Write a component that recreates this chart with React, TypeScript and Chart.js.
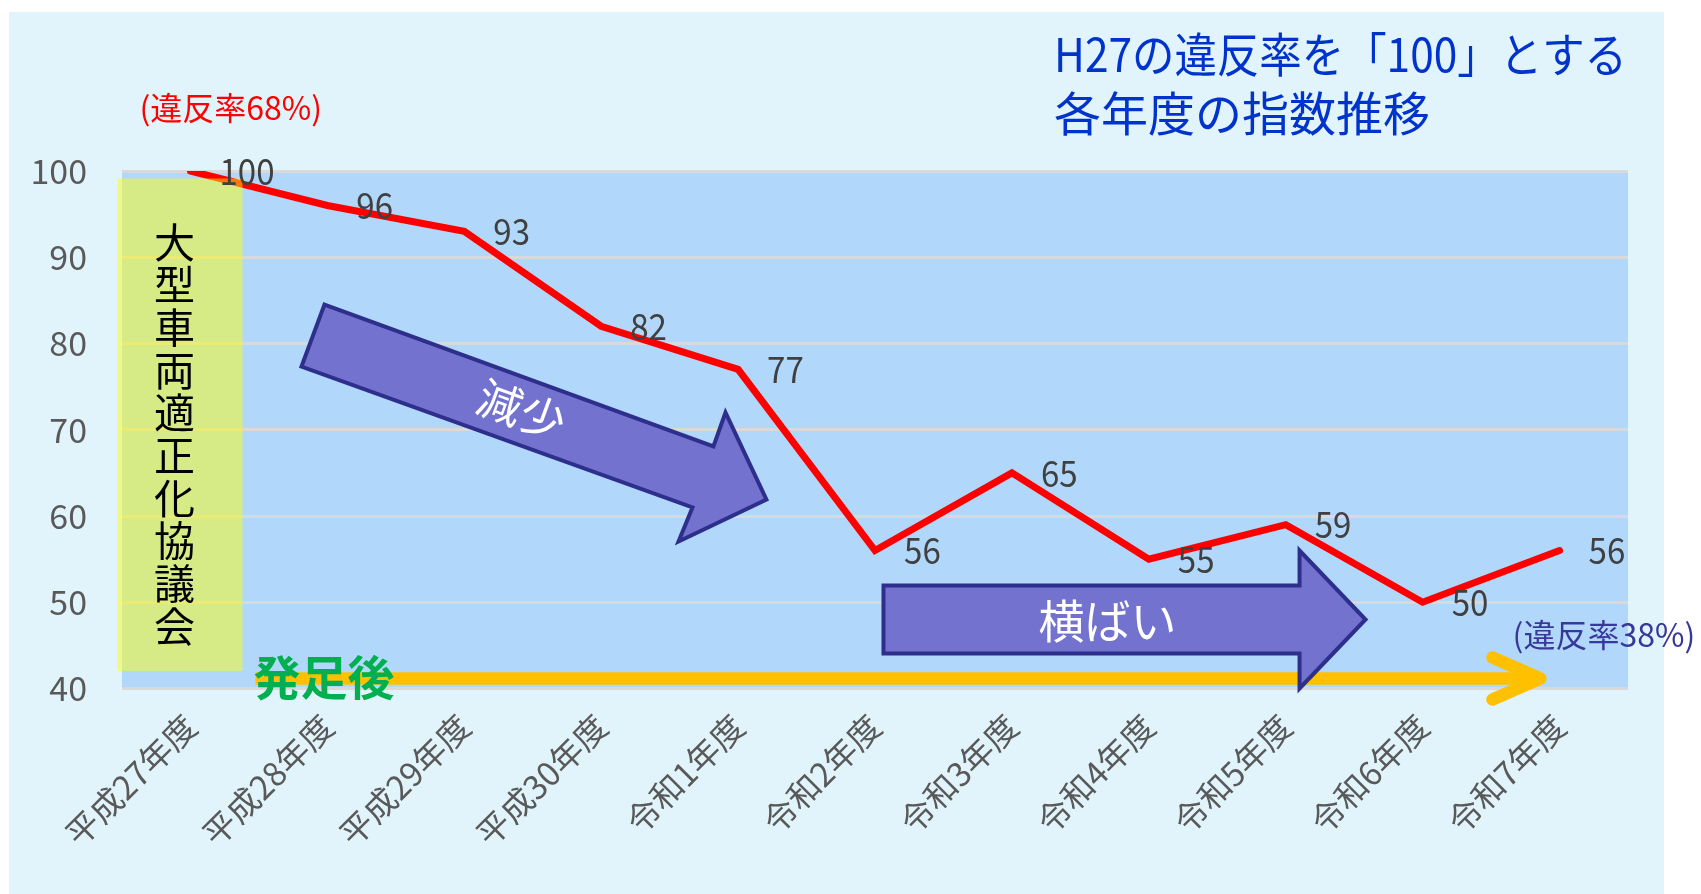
import { useEffect, useRef } from "react";
import { Chart, registerables } from "chart.js";

Chart.register(...registerables);

// ---- data ----
const categories = [
  "平成27年度", "平成28年度", "平成29年度", "平成30年度", "令和1年度",
  "令和2年度", "令和3年度", "令和4年度", "令和5年度", "令和6年度", "令和7年度",
];
const indexValues = [100, 96, 93, 82, 77, 56, 65, 55, 59, 50, 56];
const yMin = 40;
const yMax = 100;
const yStep = 10;

// ---- texts ----
const titleLines = ["H27の違反率を「100」とする", "各年度の指数推移"];
const startRateNote = "(違反率68%)";
const endRateNote = "(違反率38%)";
const councilLabel = "大型車両適正化協議会";
const launchLabel = "発足後";
const decreaseLabel = "減少";
const flatLabel = "横ばい";

const FONT = "'Noto Sans CJK JP', 'Noto Sans', sans-serif";
const W = 1701;
const H = 894;

// annotation geometry in data units: [category index, index value]
const decreaseArrowPts = [
  [0.979, 84.52], [3.82, 68.06], [3.908, 72.0], [4.207, 61.91],
  [3.565, 57.04], [3.667, 60.99], [0.811, 77.33],
];
const flatArrowPts = [
  [5.062, 51.94], [8.101, 51.94], [8.101, 56.0], [8.583, 48.0],
  [8.101, 40.0], [8.101, 44.06], [5.062, 44.06],
];

const decorPlugin = {
  id: "decor",
  beforeDraw(chart: any) {
    const { ctx, chartArea: a } = chart;
    ctx.save();
    ctx.fillStyle = "#FFFFFF";
    ctx.fillRect(0, 0, W, H);
    ctx.fillStyle = "#E1F4FC";
    ctx.fillRect(9, 12, 1655, H - 12);
    ctx.fillStyle = "#B1D8FB";
    ctx.fillRect(a.left, a.top, a.right - a.left, a.bottom - a.top);
    ctx.restore();
  },
  afterDatasetsDraw(chart: any) {
    const { ctx } = chart;
    const xs = chart.scales.x;
    const ys = chart.scales.y;
    const px = (i: number) => xs.getPixelForValue(i);
    const py = (v: number) => ys.getPixelForValue(v);
    ctx.save();

    // council box (semi-transparent yellow)
    const bx0 = px(-0.533), bx1 = px(0.38), by0 = py(99.13), by1 = py(42.03);
    ctx.fillStyle = "rgba(255,255,0,0.47)";
    ctx.fillRect(bx0, by0, bx1 - bx0, by1 - by0);
    // vertical text
    ctx.fillStyle = "#000000";
    ctx.font = `41px ${FONT}`;
    ctx.textAlign = "center";
    ctx.textBaseline = "middle";
    const chars = Array.from(councilLabel);
    const cx = px(-0.117);
    const cy0 = py(91.77), cy1 = py(47.25);
    chars.forEach((c, k) => {
      ctx.fillText(c, cx, cy0 + ((cy1 - cy0) * k) / (chars.length - 1));
    });

    // orange arrow
    const oy = py(41.16);
    const ox0 = px(0.475), otip = px(9.86), oback = px(9.51);
    ctx.strokeStyle = "#FFC000";
    ctx.lineWidth = 12.5;
    ctx.lineCap = "butt";
    ctx.beginPath();
    ctx.moveTo(ox0, oy);
    ctx.lineTo(otip - 6, oy);
    ctx.stroke();
    ctx.lineCap = "round";
    ctx.lineJoin = "round";
    ctx.beginPath();
    ctx.moveTo(oback, py(43.6));
    ctx.lineTo(otip, oy);
    ctx.lineTo(oback, py(38.72));
    ctx.stroke();

    // launch label
    ctx.fillStyle = "#00B050";
    ctx.font = `bold 47px ${FONT}`;
    ctx.textAlign = "left";
    ctx.textBaseline = "middle";
    ctx.fillText(launchLabel, ox0 - 2, py(41.33));

    // block arrows
    const drawArrow = (pts: number[][]) => {
      ctx.beginPath();
      pts.forEach(([i, v], k) => {
        if (k === 0) ctx.moveTo(px(i), py(v));
        else ctx.lineTo(px(i), py(v));
      });
      ctx.closePath();
      ctx.fillStyle = "#7373CF";
      ctx.fill();
      ctx.lineWidth = 4;
      ctx.lineJoin = "miter";
      ctx.strokeStyle = "#2E2E8C";
      ctx.stroke();
    };
    drawArrow(decreaseArrowPts);
    drawArrow(flatArrowPts);

    // arrow texts
    const ang = Math.atan2(
      py(decreaseArrowPts[1][1]) - py(decreaseArrowPts[0][1]),
      px(decreaseArrowPts[1][0]) - px(decreaseArrowPts[0][0])
    );
    ctx.fillStyle = "#FFFFFF";
    ctx.textAlign = "center";
    ctx.textBaseline = "middle";
    ctx.save();
    ctx.translate(px(2.418), py(72.29));
    ctx.rotate(ang);
    ctx.font = `45px ${FONT}`;
    ctx.fillText(decreaseLabel, 0, 0);
    ctx.restore();
    ctx.font = `46px ${FONT}`;
    ctx.fillText(flatLabel, px(6.698), py(47.94));

    // data labels
    ctx.fillStyle = "#404040";
    ctx.font = `36px ${FONT}`;
    ctx.textAlign = "left";
    ctx.textBaseline = "middle";
    const meta = chart.getDatasetMeta(0);
    meta.data.forEach((pt: any, k: number) => {
      const s = String(indexValues[k]);
      const w = ctx.measureText(s).width;
      ctx.fillText(s, pt.x + 29, pt.y, w * 0.92);
    });

    // rate notes
    ctx.font = `32px ${FONT}`;
    ctx.fillStyle = "#FF0000";
    ctx.fillText(startRateNote, px(-0.373), py(107.3), 192);
    ctx.fillStyle = "#38389A";
    ctx.fillText(endRateNote, px(9.657), py(46.2), 188);

    // title
    ctx.fillStyle = "#0033CC";
    ctx.font = `47px ${FONT}`;
    ctx.fillText(titleLines[0], 1054, 54, 573);
    ctx.fillText(titleLines[1], 1054, 113);

    ctx.restore();
  },
};

export default function App() {
  const ref = useRef<HTMLCanvasElement | null>(null);
  useEffect(() => {
    if (!ref.current) return;
    const chart = new Chart(ref.current, {
      type: "line",
      data: {
        labels: categories,
        datasets: [
          {
            data: indexValues,
            borderColor: "#FF0000",
            borderWidth: 7,
            pointRadius: 0,
            pointHoverRadius: 0,
            tension: 0,
            fill: false,
            borderCapStyle: "round",
            borderJoinStyle: "miter",
          },
        ],
      },
      options: {
        responsive: false,
        animation: false,
        events: [],
        layout: { padding: { left: 0, right: 73, top: 171, bottom: 0 } },
        plugins: {
          legend: { display: false },
          tooltip: { enabled: false },
          title: { display: false },
        },
        scales: {
          x: {
            offset: true,
            grid: { display: false, drawTicks: false },
            border: { display: false },
            ticks: {
              autoSkip: false,
              minRotation: 45,
              maxRotation: 45,
              padding: 18,
              color: "#595959",
              font: { family: FONT, size: 33 },
            },
            afterFit: (s: any) => {
              s.height = 205.5;
            },
          },
          y: {
            min: yMin,
            max: yMax,
            ticks: {
              stepSize: yStep,
              padding: 35,
              color: "#595959",
              font: { family: FONT, size: 34 },
            },
            grid: { color: "#D9D9D9", lineWidth: 3, drawTicks: false },
            border: { display: false },
            afterFit: (s: any) => {
              s.width = 122;
            },
          },
        },
      },
      plugins: [decorPlugin],
    });
    return () => chart.destroy();
  }, []);
  return (
    <div style={{ position: "absolute", left: 0, top: 0, width: W, height: H }}>
      <canvas ref={ref} width={W} height={H} style={{ display: "block" }} />
    </div>
  );
}
